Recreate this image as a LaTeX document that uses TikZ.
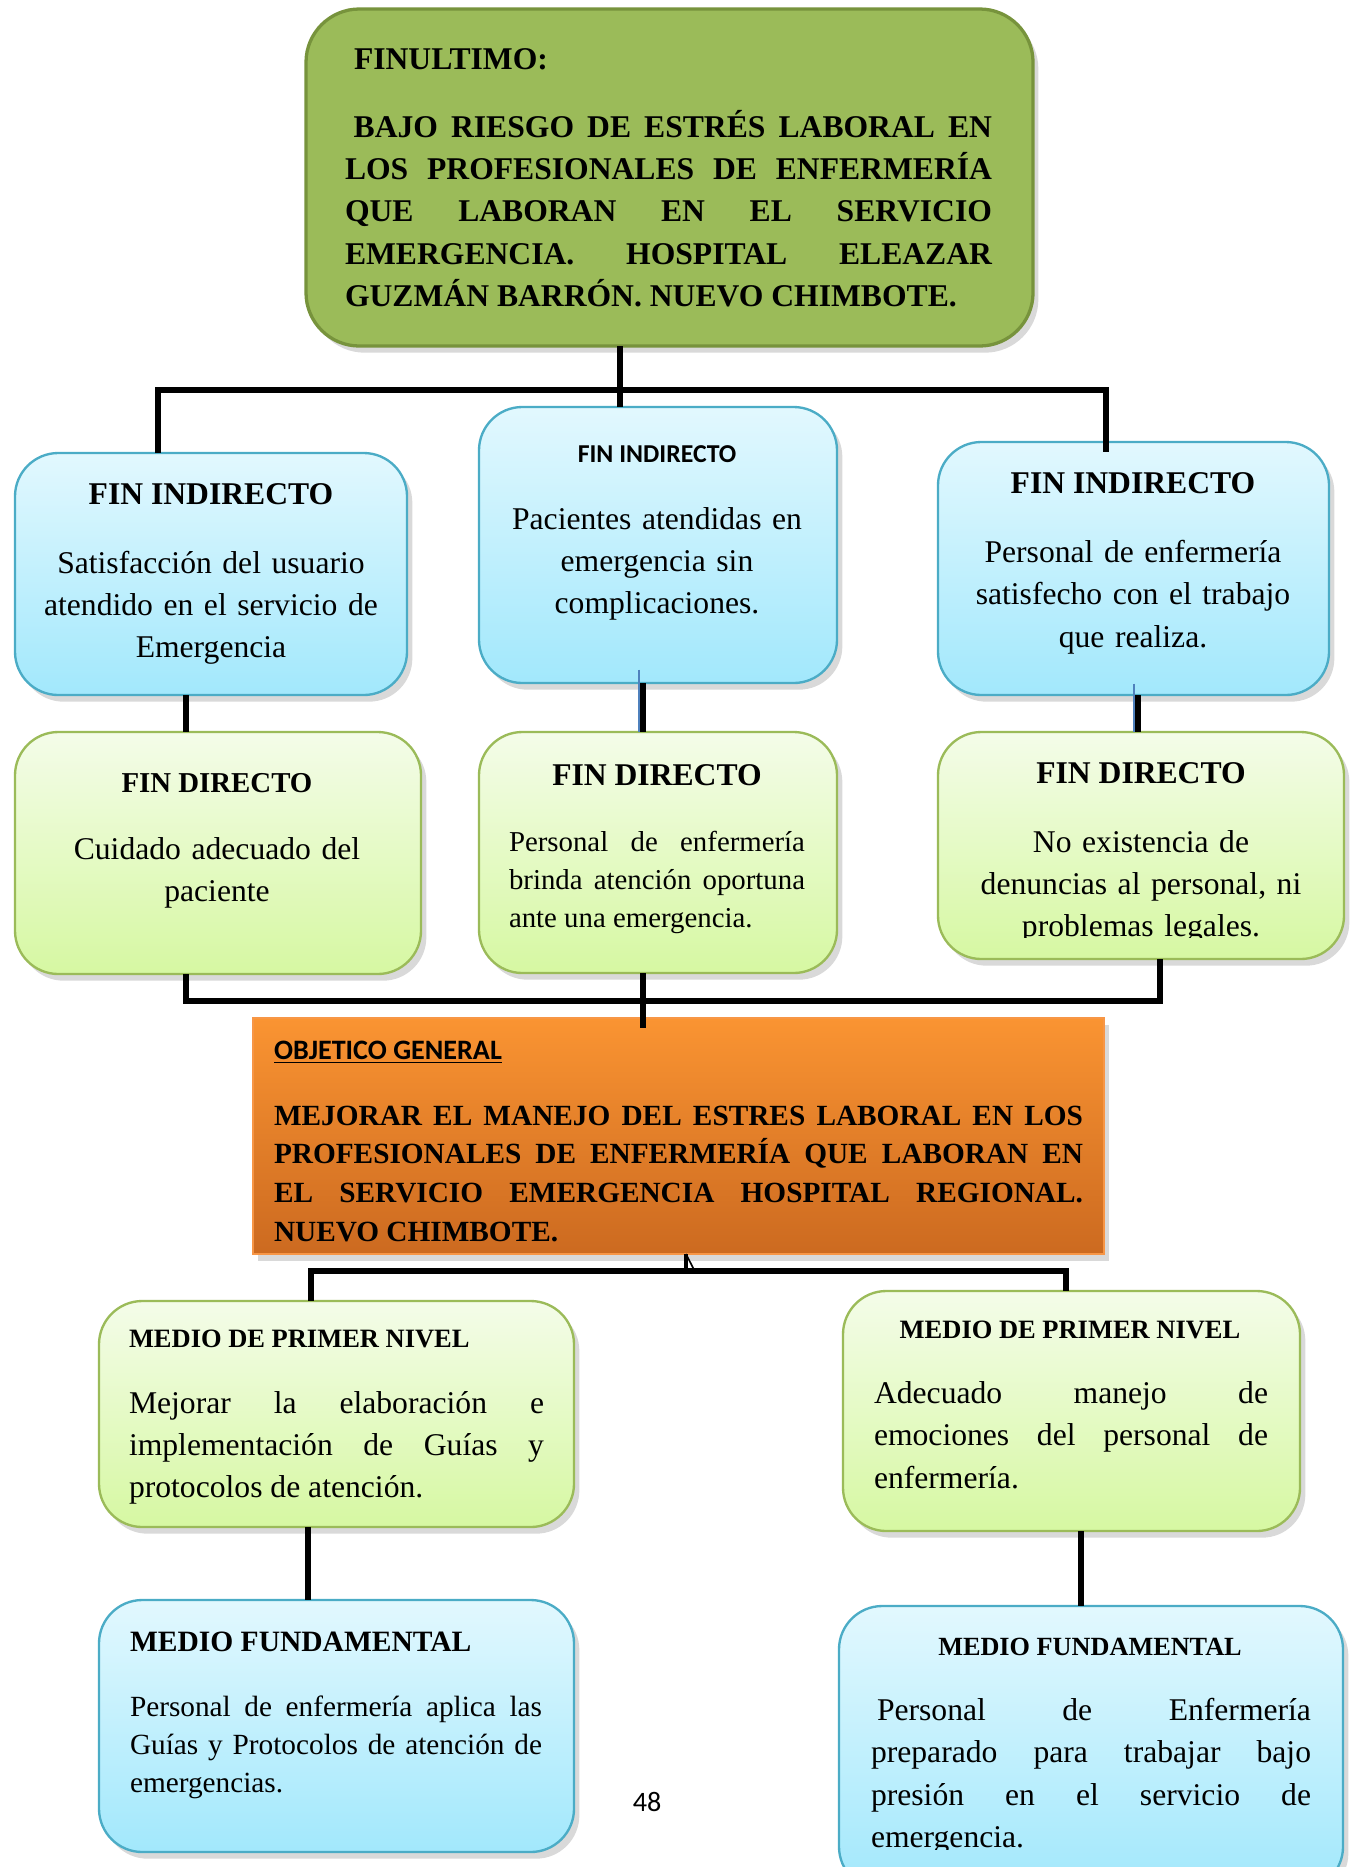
\documentclass[tikz,border=0pt]{standalone}
\usepackage{fontspec}
\setmainfont{Liberation Serif}
\setsansfont{Carlito}
\usepackage{tikz}
\usetikzlibrary{shadows}
\definecolor{verdeolivo}{HTML}{9BBB59}
\definecolor{verdeborde}{HTML}{77933C}
\definecolor{azularriba}{HTML}{E2F8FE}
\definecolor{azulabajo}{HTML}{A2E8FC}
\definecolor{azulborde}{HTML}{4BACC6}
\definecolor{verdearriba}{HTML}{F4FCE9}
\definecolor{verdeabajo}{HTML}{D6F8A2}
\definecolor{naranjaarriba}{HTML}{FA9432}
\definecolor{naranjaabajo}{HTML}{CC6A20}
\definecolor{naranjaborde}{HTML}{F79646}
\definecolor{azullinea}{HTML}{4F81BD}

\begin{document}
\begin{tikzpicture}[x=0.015cm,y=-0.015cm]
	\tikzstyle{every node}=[inner sep=0pt,outer sep=0pt]
	\tikzstyle{caja}=[rectangle,anchor=north west,rounded corners=0.65cm,line width=1pt,
		drop shadow={shadow xshift=0.8mm,shadow yshift=-1mm,opacity=0.3}]
	\tikzstyle{azul}=[caja,draw=azulborde,top color=azularriba,bottom color=azulabajo]
	\tikzstyle{verde}=[caja,draw=verdeolivo,top color=verdearriba,bottom color=verdeabajo]
	\tikzstyle{titulo}=[font=\bfseries\fontsize{13.5}{18}\selectfont]
	\tikzstyle{texto}=[font=\fontsize{13.5}{18.1}\selectfont]
	\tikzstyle{centrado}=[anchor=base,align=center]
	\tikzstyle{parrafo}=[anchor=base west,align=justify]
	\tikzstyle{linea}=[line width=2.3pt,black]
	\tikzstyle{lineafina}=[line width=0.9pt,azullinea]

	\useasboundingbox (0,0) rectangle (1353,1867);

	\node[caja,rounded corners=0.8cm,line width=1.4pt,draw=verdeborde,fill=verdeolivo,
		minimum width=10.905cm,minimum height=5.055cm] (finultimo) at (306,9) {};
	\node[azul,minimum width=5.88cm,minimum height=3.63cm] (indirectoA) at (15,453) {};
	\node[azul,minimum width=5.37cm,minimum height=4.14cm] (indirectoB) at (479,407) {};
	\node[azul,minimum width=5.865cm,minimum height=3.795cm] (indirectoC) at (938,442) {};
	\node[verde,minimum width=6.09cm,minimum height=3.63cm] (directoA) at (15,732) {};
	\node[verde,minimum width=5.37cm,minimum height=3.615cm] (directoB) at (479,732) {};
	\node[verde,minimum width=6.09cm,minimum height=3.405cm] (directoC) at (938,732) {};
	\node[caja,rounded corners=0pt,draw=naranjaborde,top color=naranjaarriba,bottom color=naranjaabajo,
		minimum width=12.765cm,minimum height=3.54cm] (objetivo) at (253,1018) {};
	\node[verde,minimum width=7.125cm,minimum height=3.39cm] (medioA) at (99,1301) {};
	\node[verde,minimum width=6.855cm,minimum height=3.6cm] (medioB) at (843,1291) {};
	\node[azul,minimum width=7.125cm,minimum height=3.78cm] (fundA) at (99,1600) {};
	\node[azul,minimum width=7.56cm,minimum height=4.26cm] (fundB) at (839,1606) {};

	\coordinate (barraAi) at (158,390);
	\coordinate (barraAd) at (1106,390);
	\draw[linea] (finultimo.south -| 620,0) -- (indirectoB.north -| 620,0);
	\draw[linea] (indirectoA.north -| barraAi) -- (barraAi) -- (barraAd) -- ([yshift=-0.15cm]indirectoC.north -| barraAd);

	\draw[linea] (indirectoA.south -| 186,0) -- (directoA.north -| 186,0);
	\draw[linea] (indirectoB.south -| 643,0) -- (directoB.north -| 643,0);
	\draw[linea] (indirectoC.south -| 1138,0) -- (directoC.north -| 1138,0);
	\draw[lineafina] ([yshift=0.2cm]indirectoB.south -| 639,0) -- (directoB.north -| 639,0);
	\draw[lineafina] ([yshift=0.17cm]indirectoC.south -| 1134,0) -- (directoC.north -| 1134,0);

	\coordinate (barraBi) at (186,1001);
	\coordinate (barraBd) at (1160,1001);
	\draw[linea] (directoA.south -| barraBi) -- (barraBi) -- (barraBd) -- (directoC.south -| barraBd);
	\draw[linea] (directoB.south -| 643,0) -- ([yshift=-0.15cm]objetivo.north -| 643,0);

	\coordinate (barraCi) at (311,1271);
	\coordinate (barraCm) at (686,1271);
	\coordinate (barraCd) at (1066,1271);
	\draw[linea] (medioA.north -| barraCi) -- (barraCi) -- (barraCd) -- (medioB.north -| barraCd);
	\draw[line width=1.3pt] (objetivo.south -| barraCm) -- (barraCm);
	\draw[line width=0.7pt] (objetivo.south -| barraCm) -- ([xshift=0.13cm]barraCm);

	\draw[linea] (medioA.south -| 308,0) -- (fundA.north -| 308,0);
	\draw[linea] (medioB.south -| 1081,0) -- (fundB.north -| 1081,0);

	\node[titulo,anchor=base west] (tFinultimo) at (354,69) {FINULTIMO:};
	\node[titulo,parrafo,text width=9.705cm] (pFinultimo) at (345,137.5)
		{\hspace*{0.13cm}BAJO RIESGO DE ESTRÉS LABORAL EN\linebreak LOS PROFESIONALES DE ENFERMERÍA\linebreak QUE LABORAN EN EL SERVICIO\linebreak EMERGENCIA. HOSPITAL ELEAZAR\linebreak GUZMÁN BARRÓN. NUEVO CHIMBOTE.};

	\node[titulo,anchor=base] (tIndirectoA) at (211,504) {FIN INDIRECTO};
	\node[texto,centrado,text width=5.6cm] (pIndirectoA) at (211,573)
		{Satisfacción del usuario\\ atendido en el servicio de\\ Emergencia};
	\node[font=\sffamily\bfseries\fontsize{11}{13}\selectfont,anchor=base] (tIndirectoB) at (657,462) {FIN INDIRECTO};
	\node[texto,centrado,text width=5.1cm] (pIndirectoB) at (657,529)
		{Pacientes atendidas en\\ emergencia sin\\ complicaciones.};
	\node[titulo,anchor=base] (tIndirectoC) at (1133,493) {FIN INDIRECTO};
	\node[texto,centrado,text width=5.6cm] (pIndirectoC) at (1133,562.5)
		{Personal de enfermería\\ satisfecho con el trabajo\\ que realiza.};

	\node[font=\bfseries\fontsize{12.3}{16}\selectfont,anchor=base] (tDirectoA) at (217,792) {FIN DIRECTO};
	\node[texto,centrado,text width=5.8cm] (pDirectoA) at (217,859.5)
		{Cuidado adecuado del\\ paciente};
	\node[titulo,anchor=base] (tDirectoB) at (657,785) {FIN DIRECTO};
	\node[font=\fontsize{12.3}{16.4}\selectfont,parrafo,text width=4.44cm] (pDirectoB) at (509,851)
		{Personal de enfermería\linebreak brinda atención oportuna\linebreak ante una emergencia.};
	\node[titulo,anchor=base] (tDirectoC) at (1141,783.6) {FIN DIRECTO};
	\begin{scope}
		\clip (938,732) rectangle (1344,937);
		\node[texto,centrado,text width=5.8cm] (pDirectoC) at (1141,852)
			{No existencia de\\ denuncias al personal, ni\\ problemas legales.};
	\end{scope}

	\node[font=\sffamily\bfseries\fontsize{12}{14}\selectfont,anchor=base west] (tObjetivo) at (274,1059) {\underline{OBJETICO GENERAL}};
	\node[font=\bfseries\fontsize{12.5}{16.5}\selectfont,parrafo,text width=12.135cm] (pObjetivo) at (274,1125)
		{MEJORAR EL MANEJO DEL ESTRES LABORAL EN LOS\linebreak PROFESIONALES DE ENFERMERÍA QUE LABORAN EN\linebreak EL SERVICIO EMERGENCIA HOSPITAL REGIONAL.\linebreak NUEVO CHIMBOTE.};

	\node[font=\bfseries\fontsize{11.3}{14}\selectfont,anchor=base west] (tMedioA) at (129,1347) {MEDIO DE PRIMER NIVEL};
	\node[texto,parrafo,text width=6.225cm] (pMedioA) at (129,1413)
		{Mejorar la elaboración e\linebreak implementación de Guías y\linebreak protocolos de atención.};
	\node[font=\bfseries\fontsize{11.3}{14}\selectfont,anchor=base] (tMedioB) at (1070,1338.6) {MEDIO DE PRIMER NIVEL};
	\node[texto,parrafo,text width=5.91cm] (pMedioB) at (874,1403.5)
		{Adecuado manejo de\linebreak emociones del personal de\linebreak enfermería.};

	\node[font=\bfseries\fontsize{12.6}{15}\selectfont,anchor=base west] (tFundA) at (130,1651.6) {MEDIO FUNDAMENTAL};
	\node[font=\fontsize{12.5}{16.3}\selectfont,parrafo,text width=6.18cm] (pFundA) at (130,1716.5)
		{Personal de enfermería aplica las\linebreak Guías y Protocolos de atención de\linebreak emergencias.};
	\node[font=\bfseries\fontsize{11.2}{13}\selectfont,anchor=base] (tFundB) at (1090,1655.5) {MEDIO FUNDAMENTAL};
	\begin{scope}
		\clip (839,1606) rectangle (1343,1849);
		\node[texto,parrafo,text width=6.6cm] (pFundB) at (871,1720.5)
			{\hspace*{0.09cm}Personal de Enfermería\linebreak preparado para trabajar bajo\linebreak presión en el servicio de\linebreak emergencia.};
	\end{scope}

	\node[font=\sffamily\fontsize{12}{14}\selectfont,anchor=base] (pagina) at (647,1811) {48};
\end{tikzpicture}
\end{document}
